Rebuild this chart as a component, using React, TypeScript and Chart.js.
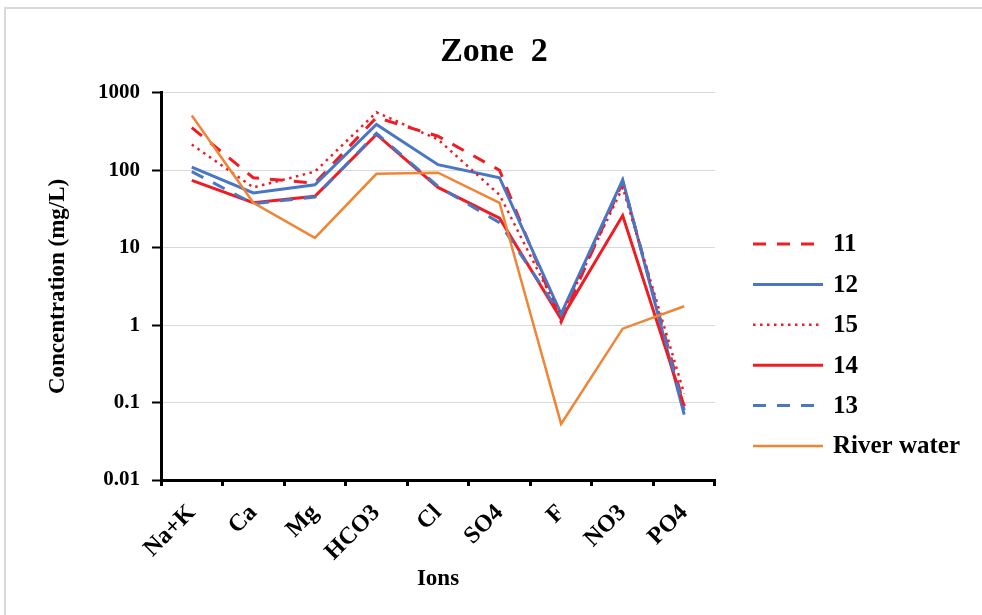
import { useEffect, useRef } from 'react';
import { Chart, registerables } from 'chart.js';

Chart.register(...registerables);

const categories = ['Na+K', 'Ca', 'Mg', 'HCO3', 'Cl', 'SO4', 'F', 'NO3', 'PO4'];
const seriesNames = ['11', '12', '15', '14', '13', 'River water'];
const s11 = [355, 80, 68, 480, 275, 100, 1.1, 70, 0.09];
const s12 = [110, 51, 65, 390, 118, 80, 1.4, 75, 0.07];
const s15 = [215, 60, 96, 560, 250, 48, 1.3, 60, 0.13];
const s14 = [74, 38, 46, 290, 60, 24, 1.2, 26, 0.09];
const s13 = [96, 37, 45, 300, 62, 21, 1.35, 73, 0.08];
const river = [510, 38, 13.4, 90, 93, 38, 0.053, 0.9, 1.75];
const yTickValues = [0.01, 0.1, 1, 10, 100, 1000];
const yTickLabels = ['0.01', '0.1', '1', '10', '100', '1000'];

const RED = '#EE1D23';
const BLUE = '#4A76C6';
const ORANGE = '#F08535';
const FONT = '"Liberation Serif", "Times New Roman", serif';

const sideLegend = {
  id: 'sideLegend',
  afterDraw(chart: any) {
    const ctx = chart.ctx;
    const x0 = chart.chartArea.right + 38;
    const top = 235;
    const step = 40.4;
    chart.data.datasets.forEach((ds: any, i: number) => {
      const y = top + i * step;
      ctx.save();
      ctx.strokeStyle = ds.borderColor;
      ctx.lineWidth = ds.borderWidth;
      ctx.setLineDash(ds.borderDash || []);
      ctx.lineCap = 'butt';
      ctx.beginPath();
      ctx.moveTo(x0, y);
      ctx.lineTo(x0 + 70, y);
      ctx.stroke();
      ctx.setLineDash([]);
      ctx.fillStyle = '#000';
      ctx.font = `bold 25px ${FONT}`;
      ctx.textBaseline = 'middle';
      ctx.textAlign = 'left';
      ctx.fillText(ds.label, x0 + 80, y + 1);
      ctx.restore();
    });
  },
};

export default function App() {
  const ref = useRef<HTMLCanvasElement>(null);
  useEffect(() => {
    if (!ref.current) return;
    const mk = (label: string, data: number[], color: string, width: number, dash: number[], order: number) => ({
      label,
      data,
      borderColor: color,
      backgroundColor: color,
      borderWidth: width,
      borderDash: dash,
      pointRadius: 0,
      pointHoverRadius: 0,
      fill: false,
      tension: 0,
      order,
      yAxisID: 'y',
    });
    const chart = new Chart(ref.current, {
      type: 'line',
      data: {
        labels: categories,
        datasets: [
          mk(seriesNames[0], s11, RED, 3, [13, 11], 5),
          mk(seriesNames[1], s12, BLUE, 3, [], 4),
          mk(seriesNames[2], s15, RED, 2.5, [2.5, 4.5], 3),
          mk(seriesNames[3], s14, RED, 3, [], 2),
          mk(seriesNames[4], s13, BLUE, 3, [13, 11], 1),
          mk(seriesNames[5], river, ORANGE, 2.5, [], 0),
        ],
      },
      options: {
        animation: false,
        responsive: true,
        maintainAspectRatio: false,
        layout: { padding: { left: 0, right: 0, top: 0, bottom: 0 } },
        plugins: {
          legend: { display: false },
          tooltip: { enabled: false },
          title: {
            display: true,
            text: 'Zone  2',
            color: '#000',
            font: { family: FONT, size: 34, weight: 'bold' },
            padding: { top: 23, bottom: 20 },
          },
        },
        scales: {
          x: {
            type: 'category',
            offset: true,
            afterFit: (scale: any) => {
              scale.height = 135;
            },
            grid: {
              offset: true,
              drawOnChartArea: false,
              drawTicks: true,
              tickLength: 6,
              tickColor: '#000',
              tickWidth: 3,
            },
            border: { display: true, color: '#000', width: 3 },
            ticks: {
              color: '#000',
              font: { family: FONT, size: 24, weight: 'bold' },
              maxRotation: 45,
              minRotation: 45,
              padding: 13,
              autoSkip: false,
            },
            title: {
              display: true,
              text: 'Ions',
              color: '#000',
              font: { family: FONT, size: 23, weight: 'bold' },
              padding: { top: 0, bottom: 22 },
            },
          },
          y: {
            type: 'logarithmic',
            min: 0.01,
            max: 1000,
            afterFit: (scale: any) => {
              scale.width = 155;
            },
            afterBuildTicks: (scale: any) => {
              scale.ticks = yTickValues.map((v) => ({ value: v }));
            },
            grid: {
              color: '#d9d9d9',
              lineWidth: 1,
              drawTicks: true,
              tickLength: 9,
              tickColor: '#000',
              tickWidth: 2,
            },
            border: { display: true, color: '#000', width: 3 },
            ticks: {
              color: '#000',
              font: { family: FONT, size: 21, weight: 'bold' },
              padding: 12,
              callback: (v: any) => {
                const i = yTickValues.indexOf(Number(v));
                return i >= 0 ? yTickLabels[i] : '';
              },
            },
            title: {
              display: true,
              text: 'Concentration (mg/L)',
              color: '#000',
              font: { family: FONT, size: 23, weight: 'bold' },
              padding: { top: 38, bottom: 0 },
            },
          },
          legendSpace: {
            type: 'linear',
            position: 'right',
            display: true,
            afterFit: (scale: any) => {
              scale.width = 267;
            },
            grid: { display: false, drawTicks: false },
            border: { display: false },
            ticks: { display: false },
            title: { display: false },
          },
        },
      },
      plugins: [sideLegend],
    } as any);
    return () => chart.destroy();
  }, []);
  return (
    <div
      style={{
        position: 'absolute',
        left: 4,
        top: 7,
        width: 978,
        height: 608,
        borderTop: '2px solid #d9d9d9',
        borderLeft: '2px solid #d9d9d9',
        boxSizing: 'border-box',
        background: '#fff',
      }}
    >
      <div style={{ position: 'relative', width: 976, height: 606 }}>
        <canvas ref={ref} />
      </div>
    </div>
  );
}
